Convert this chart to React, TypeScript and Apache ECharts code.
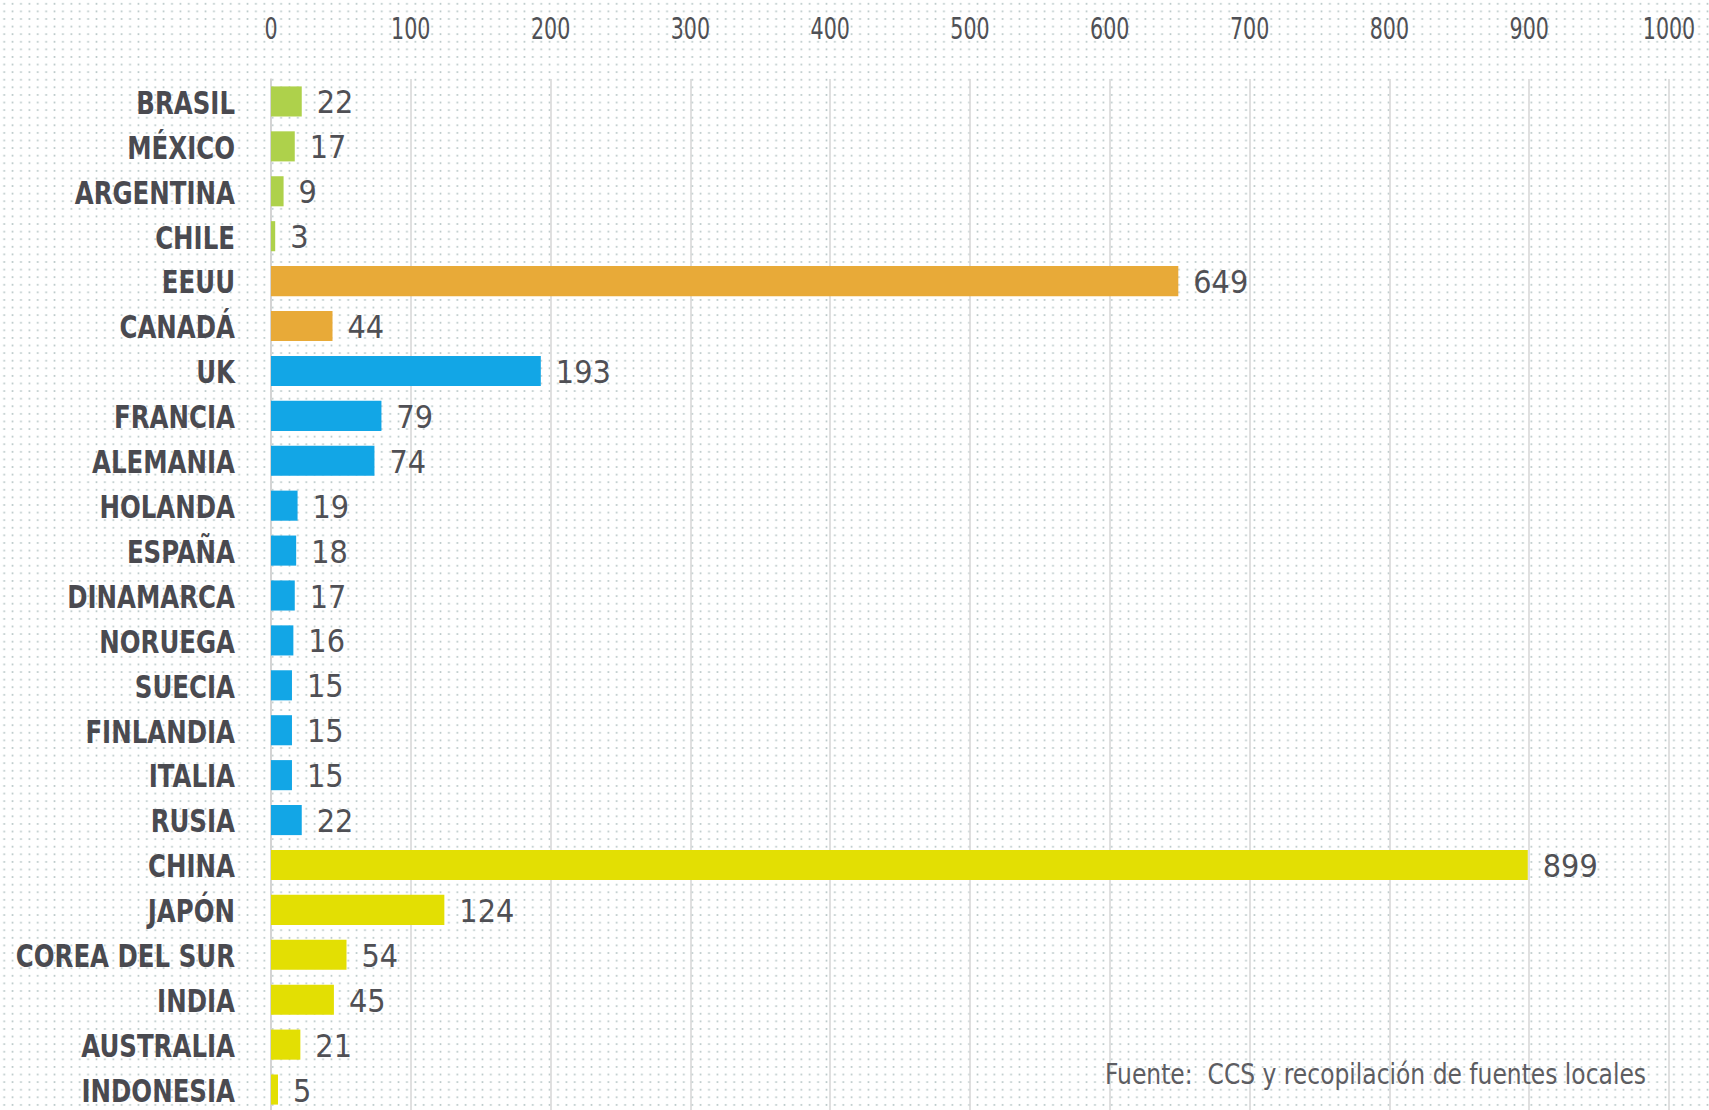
import React, { useEffect, useRef } from "react";
import * as echarts from "echarts";

const categories = [
  "BRASIL", "MÉXICO", "ARGENTINA", "CHILE",
  "EEUU", "CANADÁ",
  "UK", "FRANCIA", "ALEMANIA", "HOLANDA", "ESPAÑA", "DINAMARCA", "NORUEGA", "SUECIA", "FINLANDIA", "ITALIA", "RUSIA",
  "CHINA", "JAPÓN", "COREA DEL SUR", "INDIA", "AUSTRALIA", "INDONESIA",
];
const values = [22, 17, 9, 3, 649, 44, 193, 79, 74, 19, 18, 17, 16, 15, 15, 15, 22, 899, 124, 54, 45, 21, 5];
const regions = [
  "latam", "latam", "latam", "latam",
  "norteamerica", "norteamerica",
  "europa", "europa", "europa", "europa", "europa", "europa", "europa", "europa", "europa", "europa", "europa",
  "asia", "asia", "asia", "asia", "asia", "asia",
];
const regionColors: Record<string, string> = {
  latam: "#aed14b",
  norteamerica: "#e8aa38",
  europa: "#12a6e6",
  asia: "#e3df03",
};
const tickValues = [0, 100, 200, 300, 400, 500, 600, 700, 800, 900, 1000];
const sourceText = "Fuente:  CCS y recopilación de fuentes locales";

const COND = "'DejaVu Sans Condensed', 'Liberation Sans Narrow', sans-serif";

export default function App() {
  const ref = useRef<HTMLDivElement>(null);
  useEffect(() => {
    document.body.style.margin = "0";
    const chart = echarts.init(ref.current!, null, { renderer: "svg" });
    chart.setOption({
      animation: false,
      backgroundColor: "transparent",
      grid: { left: 271, right: 40, top: 79, height: 1033, containLabel: false, outerBoundsMode: "none" },
      xAxis: {
        type: "value",
        position: "top",
        min: tickValues[0],
        max: tickValues[tickValues.length - 1],
        interval: 100,
        axisLine: { show: false },
        axisTick: { show: false },
        axisLabel: { show: false },
        splitLine: { show: true, lineStyle: { color: "#d6d6d6", width: 1.5 } },
      },
      yAxis: {
        type: "category",
        inverse: true,
        data: categories,
        axisLine: { show: true, lineStyle: { color: "#d0d0d0", width: 1.5 } },
        axisTick: { show: false },
        axisLabel: { show: false },
      },
      series: [
        {
          type: "bar",
          barCategoryGap: "33%",
          data: values.map((v, i) => ({
            value: v,
            itemStyle: { color: regionColors[regions[i]] },
          })),
          label: {
            show: true,
            position: "right",
            distance: 15,
            fontSize: 32,
            fontFamily: COND,
            color: "#505055",
            offset: [0, 1],
          },
        },
      ],
    });

    const graphics: any[] = [];
    tickValues.forEach((t) => {
      const px = chart.convertToPixel({ xAxisIndex: 0 }, t) as number;
      graphics.push({
        type: "text",
        x: px,
        y: 28,
        scaleX: 0.74,
        style: {
          x: 0,
          y: 0,
          text: String(t),
          fontSize: 31,
          fontFamily: COND,
          fill: "#4f5055",
          align: "center",
          verticalAlign: "middle",
        },
      });
    });
    categories.forEach((c, i) => {
      const py = chart.convertToPixel({ yAxisIndex: 0 }, i) as number;
      graphics.push({
        type: "text",
        x: 235,
        y: py + 1,
        scaleX: 0.85,
        style: {
          x: 0,
          y: 0,
          text: c,
          fontSize: 32,
          fontWeight: "bold",
          fontFamily: COND,
          fill: "#4a4a50",
          align: "right",
          verticalAlign: "middle",
        },
      });
    });
    graphics.push({
      type: "text",
      x: 1646,
      y: 1074,
      scaleX: 0.93,
      style: {
        x: 0,
        y: 0,
        text: sourceText,
        fontSize: 28,
        fontFamily: COND,
        fill: "#5d5d62",
        align: "right",
        verticalAlign: "middle",
      },
    });
    chart.setOption({ graphic: graphics });
    return () => chart.dispose();
  }, []);
  return (
    <div
      ref={ref}
      style={{
        position: "fixed",
        left: 0,
        top: 0,
        width: 1709,
        height: 1110,
        backgroundColor: "#ffffff",
        backgroundImage: "radial-gradient(circle, #bccaca 0.8px, transparent 1.2px)",
        backgroundSize: "8.4px 7.6px",
      }}
    />
  );
}
